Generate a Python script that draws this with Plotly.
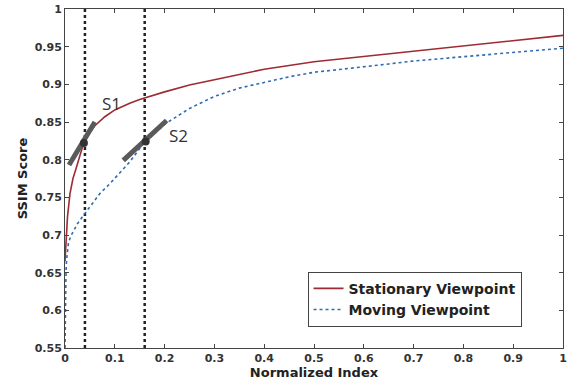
import plotly.graph_objects as go

# ---- data ----
x_stat = [0.0, 0.001, 0.002, 0.005, 0.01, 0.016, 0.023, 0.03, 0.037, 0.05, 0.06, 0.08, 0.1, 0.13, 0.15, 0.2, 0.25, 0.3, 0.35, 0.4, 0.5, 0.6, 0.65, 0.7, 0.8, 0.9, 1.0]
y_stat = [0.665, 0.68, 0.695, 0.724, 0.755, 0.775, 0.79, 0.806, 0.821, 0.836, 0.845, 0.857, 0.866, 0.875, 0.88, 0.89, 0.899, 0.906, 0.913, 0.92, 0.93, 0.937, 0.94, 0.944, 0.951, 0.958, 0.965]

x_move = [0.0, 0.0005, 0.001, 0.002, 0.003, 0.005, 0.007, 0.012, 0.017, 0.025, 0.037, 0.05, 0.07, 0.09, 0.11, 0.13, 0.157, 0.18, 0.2, 0.25, 0.3, 0.35, 0.4, 0.45, 0.5, 0.6, 0.65, 0.7, 0.8, 0.9, 1.0]
y_move = [0.55, 0.6, 0.63, 0.65, 0.665, 0.68, 0.69, 0.699, 0.706, 0.715, 0.726, 0.738, 0.755, 0.768, 0.782, 0.797, 0.821, 0.835, 0.847, 0.868, 0.884, 0.895, 0.903, 0.91, 0.916, 0.923, 0.927, 0.931, 0.937, 0.943, 0.948]

vlines_x = [0.04, 0.16]

s1_x = [0.008, 0.060]
s1_y = [0.793, 0.850]
s1_pt = (0.038, 0.822)
s2_x = [0.117, 0.204]
s2_y = [0.799, 0.852]
s2_pt = (0.162, 0.824)
labels = ["S1", "S2"]
label_x = [0.094, 0.228]
label_y = [0.875, 0.832]

x_ticks = [0, 0.1, 0.2, 0.3, 0.4, 0.5, 0.6, 0.7, 0.8, 0.9, 1]
x_ticktext = ["0", "0.1", "0.2", "0.3", "0.4", "0.5", "0.6", "0.7", "0.8", "0.9", "1"]
y_ticks = [0.55, 0.6, 0.65, 0.7, 0.75, 0.8, 0.85, 0.9, 0.95, 1]
y_ticktext = ["0.55", "0.6", "0.65", "0.7", "0.75", "0.8", "0.85", "0.9", "0.95", "1"]

fig = go.Figure()

for vx in vlines_x:
    fig.add_trace(go.Scatter(x=[vx, vx], y=[0.55, 1.0], mode="lines",
                             line=dict(color="#222222", width=2.5, dash="dot"),
                             showlegend=False, hoverinfo="skip"))

fig.add_trace(go.Scatter(x=x_stat, y=y_stat, mode="lines", name="Stationary Viewpoint",
                         line=dict(color="#9e2b33", width=1.6)))
fig.add_trace(go.Scatter(x=x_move, y=y_move, mode="lines", name="Moving Viewpoint",
                         line=dict(color="#2f6cb3", width=1.6, dash="dot")))

for sx, sy, pt in [(s1_x, s1_y, s1_pt), (s2_x, s2_y, s2_pt)]:
    fig.add_trace(go.Scatter(x=sx, y=sy, mode="lines", line=dict(color="#5a5a5a", width=5),
                             showlegend=False, hoverinfo="skip"))
    fig.add_trace(go.Scatter(x=[pt[0]], y=[pt[1]], mode="markers",
                             marker=dict(color="#333333", size=8),
                             showlegend=False, hoverinfo="skip"))

for t, lx, ly in zip(labels, label_x, label_y):
    fig.add_annotation(x=lx, y=ly, text=t, showarrow=False,
                       font=dict(family="Open Sans", size=17, color="#333333"))

axis_common = dict(showline=True, linecolor="#444444", linewidth=1, mirror="ticks",
                   ticks="inside", ticklen=4, tickcolor="#444444", showgrid=False,
                   zeroline=False, automargin=False,
                   tickfont=dict(family="DejaVu Sans", size=11, color="#333333", weight="bold"))

fig.update_xaxes(range=[0, 1], tickvals=x_ticks, ticktext=x_ticktext,
                 title=dict(text="Normalized Index", standoff=0,
                            font=dict(family="DejaVu Sans", size=13, color="#222222", weight="bold")),
                 **axis_common)
fig.update_yaxes(range=[0.55, 1], tickvals=y_ticks, ticktext=y_ticktext,
                 title=dict(text="SSIM Score", standoff=4,
                            font=dict(family="DejaVu Sans", size=13, color="#222222", weight="bold")),
                 **axis_common)

fig.update_layout(
    width=574, height=382,
    margin=dict(l=65, r=11, t=9, b=34),
    plot_bgcolor="white", paper_bgcolor="white",
    legend=dict(x=0.487, y=0.225, xanchor="left", yanchor="top",
                bordercolor="#444444", borderwidth=1, bgcolor="white",
                font=dict(family="DejaVu Sans", size=14, color="#222222", weight="bold"),
                tracegroupgap=0, itemwidth=30),
)

fig.write_html("out.html", config={"displayModeBar": False},
               post_script="document.body.style.margin='0';document.body.style.overflow='hidden';")
